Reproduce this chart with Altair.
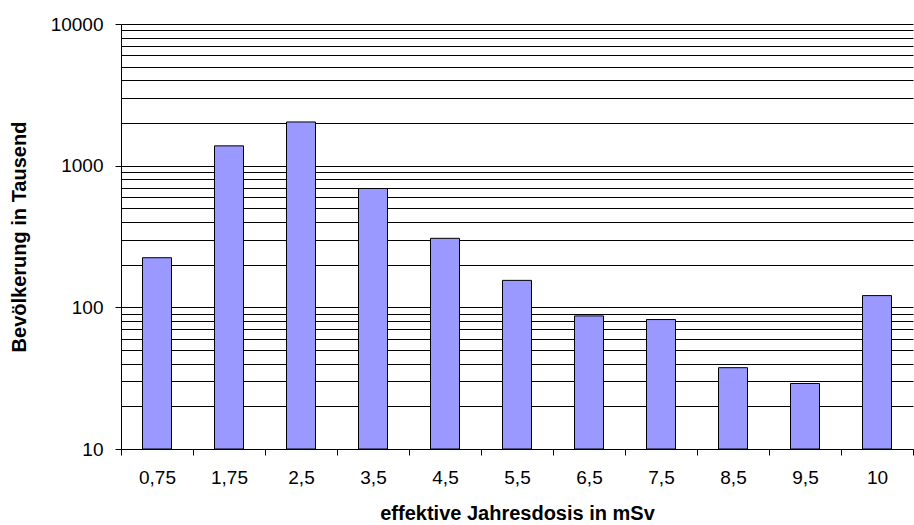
import altair as alt
import pandas as pd

categories = ["0,75", "1,75", "2,5", "3,5", "4,5", "5,5", "6,5", "7,5", "8,5", "9,5", "10"]
population = [224, 1380, 2035, 690, 307, 155, 87, 82, 37.5, 29, 121]

grid_values = [v * m for m in (10, 100, 1000) for v in range(1, 10)] + [10000]
major = [10, 100, 1000, 10000]

df = pd.DataFrame({"dose": categories, "pop": population})

FONT = "Liberation Sans"

chart = (
    alt.Chart(df)
    .mark_bar(color="#9999FF", stroke="#000000", strokeWidth=1, size=29)
    .encode(
        x=alt.X(
            "dose:N",
            sort=categories,
            scale=alt.Scale(paddingInner=0, paddingOuter=0),
            axis=alt.Axis(
                title="effektive Jahresdosis in mSv",
                labelAngle=0,
                tickBand="extent",
                tickSize=6,
                tickColor="#000000",
                domainColor="#000000",
                labelPadding=13,
                labelFontSize=19,
                labelFont=FONT,
                labelColor="#000000",
                titleFont=FONT,
                titleFontSize=20,
                titleFontWeight="bold",
                titleColor="#000000",
                titlePadding=16,
            ),
        ),
        y=alt.Y(
            "pop:Q",
            scale=alt.Scale(type="log", domain=[10, 10000], nice=False),
            axis=alt.Axis(
                title="Bevölkerung in Tausend",
                values=grid_values,
                labelExpr="indexof([10,100,1000,10000], datum.value) >= 0 ? datum.value + '' : ''",
                tickOpacity=alt.condition(
                    "indexof([10,100,1000,10000], datum.value) >= 0",
                    alt.value(1),
                    alt.value(0),
                ),
                tickSize=6,
                tickColor="#000000",
                domainColor="#000000",
                grid=True,
                gridColor="#000000",
                gridWidth=1,
                gridOpacity=1,
                labelPadding=12,
                labelFontSize=19,
                labelFont=FONT,
                labelColor="#000000",
                titleFont=FONT,
                titleFontSize=20,
                titleFontWeight="bold",
                titleColor="#000000",
                titlePadding=21,
            ),
        ),
        y2=alt.datum(10),
    )
    .properties(
        width=792,
        height=425,
        autosize=alt.AutoSizeParams(type="none"),
        padding={"left": 121, "top": 24, "right": 1, "bottom": 76},
        background="#ffffff",
    )
    .configure_view(stroke=None)
)

chart.save("out.html", embed_options={"renderer": "svg", "actions": False})
